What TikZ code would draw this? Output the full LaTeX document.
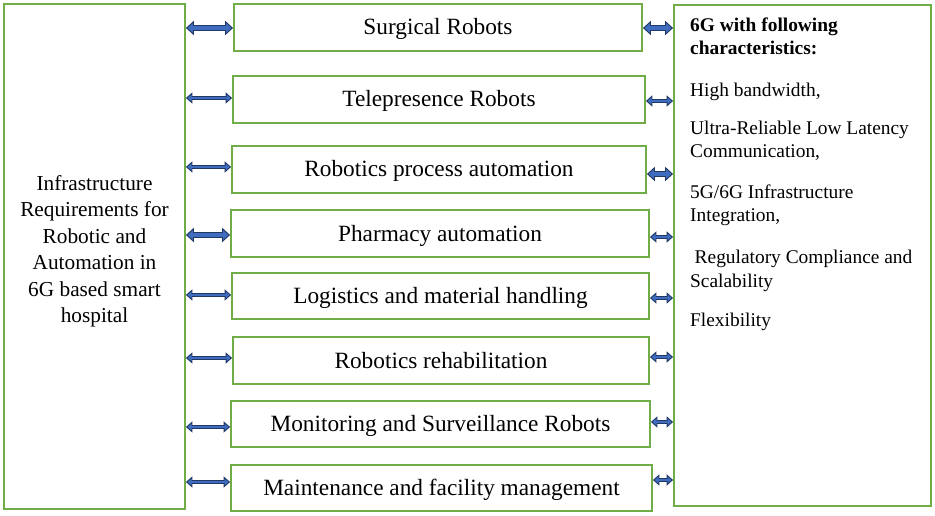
\documentclass[tikz,border=0pt]{standalone}
\usepackage{fontspec}
\setmainfont{Liberation Serif}
\usetikzlibrary{arrows.meta}
\definecolor{boxgreen}{HTML}{70AD47}
\definecolor{arrnavy}{HTML}{1F3864}
\definecolor{arrblue}{HTML}{3F6CBF}
\tikzset{
  gbox/.style={draw=boxgreen, line width=1.8pt, fill=white, inner sep=0pt},
  midbox/.style={gbox, minimum height=47pt, font=\fontsize{23.3}{28}\selectfont, text height=19pt, text depth=4pt},
  dblarrow/.style={draw=arrnavy, line width=4pt,
    {Triangle[length=6.5pt,width=11pt]}-{Triangle[length=6.5pt,width=11pt]},
    postaction={draw=arrblue, line width=2pt, shorten <=1.6pt, shorten >=1.6pt,
      {Triangle[length=4pt,width=6.6pt]}-{Triangle[length=4pt,width=6.6pt]}}},
  dblthick/.style={draw=arrnavy, line width=6pt,
    {Triangle[length=8pt,width=14pt]}-{Triangle[length=8pt,width=14pt]},
    postaction={draw=arrblue, line width=3.8pt, shorten <=1.7pt, shorten >=1.7pt,
      {Triangle[length=5.3pt,width=9.4pt]}-{Triangle[length=5.3pt,width=9.4pt]}}},
  rtext/.style={anchor=base west, inner sep=0pt, font=\fontsize{19.4}{23}\selectfont},
}
\begin{document}
\begin{tikzpicture}[x=1pt, y=-1pt]
\useasboundingbox (0,0) rectangle (935,516);
\fill[white] (0,0) rectangle (935,516);

% left box
\node[gbox, minimum width=181pt, minimum height=505pt] (left) at (94.5,256.5) {};
\node[align=center, inner sep=0pt, font=\fontsize{21.3}{26.5}\selectfont] (lefttext) at (94.5,251.3)
  {Infrastructure\\Requirements for\\Robotic and\\Automation in\\6G based smart\\hospital};

% right box
\node[gbox, minimum width=257pt, minimum height=501pt] (right) at (802.5,255.5) {};

% middle boxes
\node[midbox, minimum width=408pt] (b1) at (438,27.5) {Surgical Robots};
\node[midbox, minimum width=412pt] (b2) at (439,99.5) {Telepresence Robots};
\node[midbox, minimum width=414pt] (b3) at (439,169.5) {Robotics process automation};
\node[midbox, minimum width=418pt] (b4) at (440,233.5) {Pharmacy automation};
\node[midbox, minimum width=417pt, minimum height=46pt] (b5) at (440.5,296) {Logistics and material handling};
\node[midbox, minimum width=416pt] (b6) at (441,360.5) {Robotics rehabilitation};
\node[midbox, minimum width=419pt, minimum height=46pt] (b7) at (440.5,424) {Monitoring and Surveillance Robots};
\node[midbox, minimum width=421pt, minimum height=46pt] (b8) at (441.5,488) {Maintenance and facility management};

% right text
\node[rtext, font=\fontsize{19.4}{23}\selectfont\bfseries] (r1) at (690,32) {6G with following};
\node[rtext, font=\fontsize{19.4}{23}\selectfont\bfseries] (r2) at (690,55) {characteristics:};
\node[rtext] (r3) at (690,97) {High bandwidth,};
\node[rtext] (r4) at (690,135) {Ultra-Reliable Low Latency};
\node[rtext] (r5) at (690,158) {Communication,};
\node[rtext] (r6) at (690,198) {5G/6G Infrastructure};
\node[rtext] (r7) at (690,222) {Integration,};
\node[rtext] (r8) at (694.5,263) {Regulatory Compliance and};
\node[rtext] (r9) at (690,287) {Scalability};
\node[rtext] (r10) at (690,326) {Flexibility};

% left arrows
\draw[dblthick] (left.east |- 0,28) -- (b1.west |- 0,28);
\draw[dblarrow] (left.east |- 0,98) -- (b2.west |- 0,98);
\draw[dblarrow] (left.east |- 0,167) -- (b3.west |- 0,167);
\draw[dblthick] (left.east |- 0,235) -- (b4.west |- 0,235);
\draw[dblarrow] (left.east |- 0,295) -- (b5.west |- 0,295);
\draw[dblarrow] (left.east |- 0,358) -- (b6.west |- 0,358);
\draw[dblarrow] (left.east |- 0,427) -- (b7.west |- 0,427);
\draw[dblarrow] (left.east |- 0,482) -- (b8.west |- 0,482);

% right arrows
\draw[dblthick] (b1.east |- 0,28) -- (right.west |- 0,28);
\draw[dblarrow] (b2.east |- 0,101) -- (right.west |- 0,101);
\draw[dblthick] (b3.east |- 0,174) -- (right.west |- 0,174);
\draw[dblarrow] (b4.east |- 0,237) -- (right.west |- 0,237);
\draw[dblarrow] (b5.east |- 0,298) -- (right.west |- 0,298);
\draw[dblarrow] (b6.east |- 0,357) -- (right.west |- 0,357);
\draw[dblarrow] (b7.east |- 0,422) -- (right.west |- 0,422);
\draw[dblarrow] (b8.east |- 0,480) -- (right.west |- 0,480);
\end{tikzpicture}
\end{document}
